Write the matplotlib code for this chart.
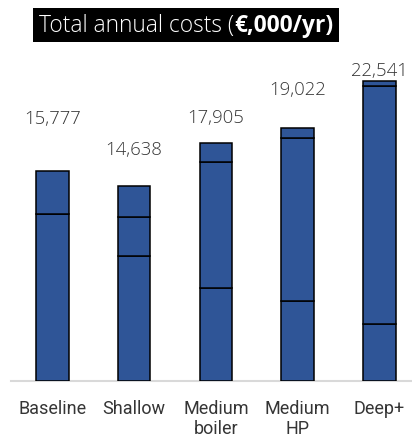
import matplotlib.pyplot as plt
from matplotlib.patches import Rectangle

# cost breakdown per scenario (EUR 000 / yr)
scenarios = ['Baseline', 'Shallow', 'Medium\nboiler', 'Medium\nHP', 'Deep+']
seg_bottom = [12577, 9414, 6962, 5984, 4246]
seg_middle = [0, 2898, 9486, 12284, 17918]
seg_top = [3200, 2326, 1457, 754, 377]
totals = [15777, 14638, 17905, 19022, 22541]

bar_col = '#2F5597'
txt_col = '#353535'

fig = plt.figure(figsize=(4.12, 4.39), dpi=100)
ax = fig.add_axes([11 / 412, 57.3 / 439, 1 - 11 / 412, 321.7 / 439])

x = range(len(scenarios))
bottom = [0] * len(scenarios)
for seg in [seg_bottom, seg_middle, seg_top]:
    ax.bar(x, seg, bottom=bottom, width=0.4, color=bar_col,
           edgecolor='black', linewidth=1.1, zorder=3)
    bottom = [b + s for b, s in zip(bottom, seg)]

# labels sit at uneven heights above the bars
lift = [38, 26.5, 18.2, 28.3, 7.8]
for i, t in enumerate(totals):
    ax.annotate(f'{t:,}', (i, t), xytext=(0, lift[i]), textcoords='offset points',
                ha='center', va='center', fontsize=13.3, color=txt_col,
                family=['Open Sans', 'DejaVu Sans'], fontweight='light')

ax.set_xlim(-0.505, 4.397)
ax.set_ylim(0, 24200)
ax.set_yticks([])
ax.set_xticks(list(x))
ax.set_xticklabels(scenarios, fontsize=13, color=txt_col, family='Roboto',
                   linespacing=1.18)
ax.tick_params(axis='x', length=0, pad=13)
for s in ['top', 'right', 'left']:
    ax.spines[s].set_visible(False)
ax.spines['bottom'].set_color('#d9d9d9')
ax.spines['bottom'].set_linewidth(1.5)

# title in a black box, second half in bold
fig.patches.append(Rectangle((33 / 412, 1 - 42.7 / 439), 306 / 412, 33.7 / 439,
                             transform=fig.transFigure, facecolor='black',
                             edgecolor='none'))
t1 = fig.text(39 / 412, 1 - 26 / 439, 'Total annual costs (', color='white',
              fontsize=16.4, va='center', ha='left',
              family=['Open Sans', 'DejaVu Sans'], fontweight='light')
r = fig.canvas.get_renderer()
bb = t1.get_window_extent(renderer=r)
fig.text(bb.x1 / fig.bbox.width, 1 - 26 / 439, '€,000/yr)', color='white',
         fontsize=16.4, va='center', ha='left',
         family=['Open Sans', 'DejaVu Sans'], fontweight='bold')

fig.savefig('out.png', dpi=100, facecolor='white')
